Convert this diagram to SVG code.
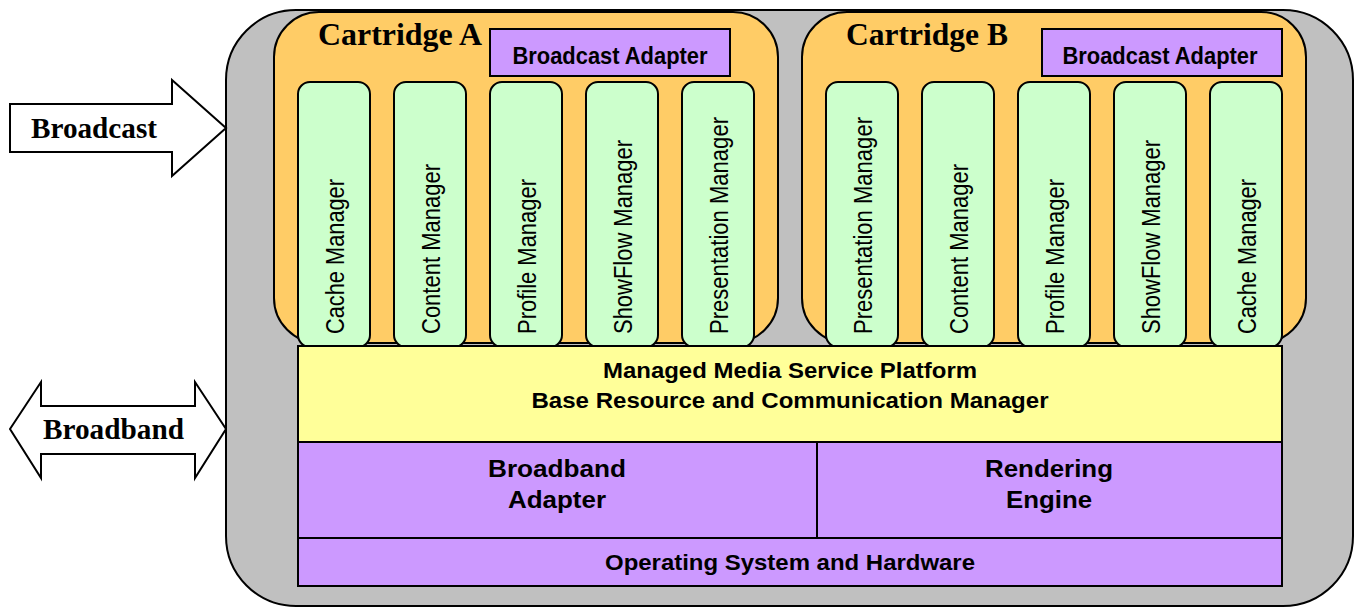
<svg xmlns="http://www.w3.org/2000/svg" width="1356" height="607" viewBox="0 0 1356 607">
<style>
.ln{stroke:#000;stroke-width:2}
.gray{fill:#C0C0C0}
.cart{fill:#FFCC66}
.mod{fill:#CCFFCC}
.pur{fill:#CC99FF}
.yel{fill:#FFFF99}
.arrow{fill:#fff}
.ser{font-family:"Liberation Serif","Times New Roman",serif;font-weight:bold;fill:#000}
.sans{font-family:"Liberation Sans",Arial,sans-serif;fill:#000}
.b{font-weight:bold}
.mt{font-size:25px}
</style>
<g id="device">
<rect class="gray ln" x="226" y="10" width="1127" height="596" rx="70"/>
</g>
<g id="broadcast-arrow">
<polygon class="arrow ln" points="10,104 172,104 172,80 226,128 172,176 172,152 10,152"/>
<text class="ser" x="31" y="138" font-size="29" textLength="126" lengthAdjust="spacingAndGlyphs">Broadcast</text>
</g>
<g id="broadband-arrow">
<polygon class="arrow ln" points="10,429 41,382 41,406 195,406 195,382 226,429 195,478 195,454 41,454 41,478"/>
<text class="ser" x="43" y="439" font-size="29" textLength="141" lengthAdjust="spacingAndGlyphs">Broadband</text>
</g>
<g id="cartridge-a">
<rect class="cart ln" x="274" y="12" width="504" height="331" rx="45"/>
<text class="ser" x="318" y="45" font-size="31" textLength="164" lengthAdjust="spacingAndGlyphs">Cartridge A</text>
</g>
<g id="cartridge-b">
<rect class="cart ln" x="802" y="12" width="504" height="331" rx="45"/>
<text class="ser" x="846" y="45" font-size="31" textLength="162" lengthAdjust="spacingAndGlyphs">Cartridge B</text>
</g>
<g id="broadcast-adapter-a">
<rect class="pur ln" x="490" y="29" width="240" height="47"/>
<text class="sans b" x="610" y="64" font-size="24" text-anchor="middle" textLength="195" lengthAdjust="spacingAndGlyphs">Broadcast Adapter</text>
</g>
<g id="broadcast-adapter-b">
<rect class="pur ln" x="1042" y="29" width="240" height="47"/>
<text class="sans b" x="1160" y="64" font-size="24" text-anchor="middle" textLength="195" lengthAdjust="spacingAndGlyphs">Broadcast Adapter</text>
</g>
<g id="a-cache-manager">
<rect class="mod ln" x="298" y="82" width="72" height="265" rx="12"/>
<text class="sans mt" transform="translate(344,334) rotate(-90)" textLength="155" lengthAdjust="spacingAndGlyphs">Cache Manager</text>
</g>
<g id="a-content-manager">
<rect class="mod ln" x="394" y="82" width="72" height="265" rx="12"/>
<text class="sans mt" transform="translate(440,334) rotate(-90)" textLength="170" lengthAdjust="spacingAndGlyphs">Content Manager</text>
</g>
<g id="a-profile-manager">
<rect class="mod ln" x="490" y="82" width="72" height="265" rx="12"/>
<text class="sans mt" transform="translate(536,334) rotate(-90)" textLength="155" lengthAdjust="spacingAndGlyphs">Profile Manager</text>
</g>
<g id="a-showflow-manager">
<rect class="mod ln" x="586" y="82" width="72" height="265" rx="12"/>
<text class="sans mt" transform="translate(632,334) rotate(-90)" textLength="194" lengthAdjust="spacingAndGlyphs">ShowFlow Manager</text>
</g>
<g id="a-presentation-manager">
<rect class="mod ln" x="682" y="82" width="72" height="265" rx="12"/>
<text class="sans mt" transform="translate(728,334) rotate(-90)" textLength="217" lengthAdjust="spacingAndGlyphs">Presentation Manager</text>
</g>
<g id="b-presentation-manager">
<rect class="mod ln" x="826" y="82" width="72" height="265" rx="12"/>
<text class="sans mt" transform="translate(872,334) rotate(-90)" textLength="217" lengthAdjust="spacingAndGlyphs">Presentation Manager</text>
</g>
<g id="b-content-manager">
<rect class="mod ln" x="922" y="82" width="72" height="265" rx="12"/>
<text class="sans mt" transform="translate(968,334) rotate(-90)" textLength="170" lengthAdjust="spacingAndGlyphs">Content Manager</text>
</g>
<g id="b-profile-manager">
<rect class="mod ln" x="1018" y="82" width="72" height="265" rx="12"/>
<text class="sans mt" transform="translate(1064,334) rotate(-90)" textLength="155" lengthAdjust="spacingAndGlyphs">Profile Manager</text>
</g>
<g id="b-showflow-manager">
<rect class="mod ln" x="1114" y="82" width="72" height="265" rx="12"/>
<text class="sans mt" transform="translate(1160,334) rotate(-90)" textLength="194" lengthAdjust="spacingAndGlyphs">ShowFlow Manager</text>
</g>
<g id="b-cache-manager">
<rect class="mod ln" x="1210" y="82" width="72" height="265" rx="12"/>
<text class="sans mt" transform="translate(1256,334) rotate(-90)" textLength="155" lengthAdjust="spacingAndGlyphs">Cache Manager</text>
</g>
<g id="platform">
<rect class="yel ln" x="298" y="346" width="984" height="96"/>
<text class="sans b" x="790" y="378" font-size="22" text-anchor="middle" textLength="374" lengthAdjust="spacingAndGlyphs">Managed Media Service Platform</text>
<text class="sans b" x="790" y="408" font-size="22" text-anchor="middle" textLength="517" lengthAdjust="spacingAndGlyphs">Base Resource and Communication Manager</text>
</g>
<g id="broadband-adapter">
<rect class="pur ln" x="298" y="442" width="519" height="96"/>
<text class="sans b" x="557" y="477" font-size="24" text-anchor="middle" textLength="138" lengthAdjust="spacingAndGlyphs">Broadband</text>
<text class="sans b" x="557" y="508" font-size="24" text-anchor="middle" textLength="98" lengthAdjust="spacingAndGlyphs">Adapter</text>
</g>
<g id="rendering-engine">
<rect class="pur ln" x="817" y="442" width="465" height="96"/>
<text class="sans b" x="1049" y="477" font-size="24" text-anchor="middle" textLength="128" lengthAdjust="spacingAndGlyphs">Rendering</text>
<text class="sans b" x="1049" y="508" font-size="24" text-anchor="middle" textLength="86" lengthAdjust="spacingAndGlyphs">Engine</text>
</g>
<g id="os-hardware">
<rect class="pur ln" x="298" y="538" width="984" height="48"/>
<text class="sans b" x="790" y="570" font-size="22" text-anchor="middle" textLength="370" lengthAdjust="spacingAndGlyphs">Operating System and Hardware</text>
</g>
<g id="connectors"/>
</svg>
